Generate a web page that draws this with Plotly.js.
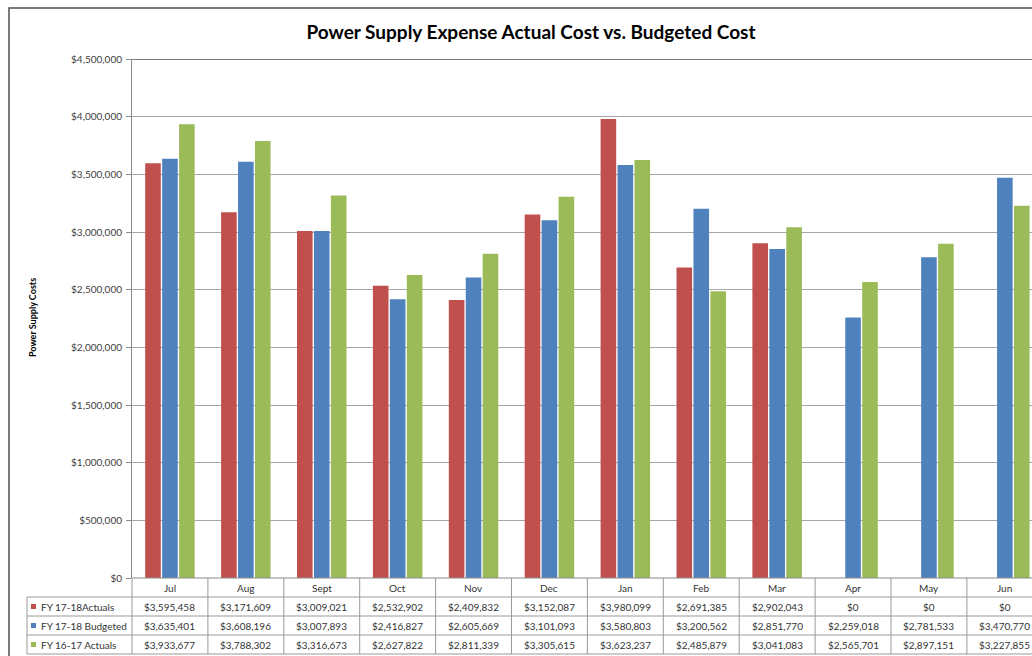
<!DOCTYPE html>
<html>
<head>
<meta charset="utf-8">
<script src="https://cdn.plot.ly/plotly-3.0.1.min.js"></script>
<style>html,body{margin:0;padding:0;background:#fff;}#chart{width:1032px;height:656px;}</style>
</head>
<body>
<div id="chart"></div>
<script>
const months = ["Jul","Aug","Sept","Oct","Nov","Dec","Jan","Feb","Mar","Apr","May","Jun"];
const seriesNames = ["FY 17-18Actuals","FY 17-18 Budgeted","FY 16-17 Actuals"];
const actual1718 = [3595458,3171609,3009021,2532902,2409832,3152087,3980099,2691385,2902043,0,0,0];
const budget1718 = [3635401,3608196,3007893,2416827,2605669,3101093,3580803,3200562,2851770,2259018,2781533,3470770];
const actual1617 = [3933677,3788302,3316673,2627822,2811339,3305615,3623237,2485879,3041083,2565701,2897151,3227855];
const yTickVals = [0,500000,1000000,1500000,2000000,2500000,3000000,3500000,4000000,4500000];
const colors = ["#C0504D","#4F81BD","#9BBB59"];
const allSeries = [actual1718, budget1718, actual1617];

const W = 1032, H = 656, L = 132, R = 0, T = 59, B = 78;
const plotW = W - L - R, plotH = H - T - B;
const catW = 75.9;
const xMax = -0.5 + plotW / catW;
const py = p => (H - B - p) / plotH;   // pixel y -> paper y
const px = p => (p - L) / plotW;       // pixel x -> paper x
const fmt = v => "$" + v.toLocaleString("en-US");
const FONT = "Lato, 'Liberation Sans', sans-serif";

const traces = allSeries.map((vals, i) => ({
  type: "bar", x: months, y: vals, name: seriesNames[i],
  marker: {color: colors[i]}, hoverinfo: "skip"
}));

const shapes = [];
const annotations = [];
// outer frame
shapes.push({type:"rect", xref:"paper", yref:"paper", x0:px(9), x1:px(1040), y0:py(665), y1:py(8), line:{color:"#505050", width:1.5}, layer:"below"});
// top gridline darker
shapes.push({type:"line", xref:"paper", yref:"y", x0:0, x1:1, y0:4500000, y1:4500000, line:{color:"#555", width:1.5}});
// table horizontal lines
shapes.push({type:"line", xref:"paper", yref:"paper", x0:0, x1:px(1040), y0:py(578), y1:py(578), line:{color:"#8a8a8a", width:1}});
[597,616,635,654].forEach(y => shapes.push({type:"line", xref:"paper", yref:"paper", x0:px(27), x1:px(1040), y0:py(y), y1:py(y), line:{color:"#9a9a9a", width:1}}));
// table verticals
shapes.push({type:"line", xref:"paper", yref:"paper", x0:px(27), x1:px(27), y0:py(597), y1:py(654), line:{color:"#9a9a9a", width:1}});
shapes.push({type:"line", xref:"paper", yref:"paper", x0:0, x1:0, y0:py(578), y1:py(654), line:{color:"#9a9a9a", width:1}});
for (let i = 0; i < months.length; i++) {
  shapes.push({type:"line", xref:"x", yref:"paper", x0:i+0.5, x1:i+0.5, y0:py(578), y1:py(654), line:{color:"#9a9a9a", width:1}});
}
// category labels and values
months.forEach((m, i) => {
  annotations.push({xref:"x", yref:"paper", x:i, y:py(587.5), text:m, showarrow:false, font:{family:FONT, size:10, color:"#333"}, xanchor:"center", yanchor:"middle"});
  allSeries.forEach((vals, s) => {
    annotations.push({xref:"x", yref:"paper", x:i, y:py(606.5 + 19*s), text:fmt(vals[i]), showarrow:false, font:{family:FONT, size:10, color:"#333"}, xanchor:"center", yanchor:"middle"});
  });
});
// legend keys
seriesNames.forEach((n, s) => {
  const yc = 606.5 + 19*s;
  shapes.push({type:"rect", xref:"paper", yref:"paper", x0:px(31), x1:px(36), y0:py(yc+2.5), y1:py(yc-2.5), fillcolor:colors[s], line:{width:0}});
  annotations.push({xref:"paper", yref:"paper", x:px(39), y:py(yc), text:n, showarrow:false, font:{family:FONT, size:10, color:"#333"}, xanchor:"left", yanchor:"middle"});
});
// y axis title
annotations.push({xref:"paper", yref:"paper", x:px(32), y:py(318), text:"<b>Power Supply Costs</b>", textangle:-90, showarrow:false, font:{family:FONT, size:9, color:"#000"}, xanchor:"center", yanchor:"middle"});

const layout = {
  width: W, height: H,
  margin: {l:L, r:R, t:T, b:B, pad:0},
  paper_bgcolor:"#fff", plot_bgcolor:"#fff",
  title: {text:"<b>Power Supply Expense Actual Cost vs. Budgeted Cost</b>", x:531/W, xref:"container", xanchor:"center", y:1-32/H, yref:"container", yanchor:"middle", font:{family:FONT, size:19, color:"#000"}},
  barmode:"group", bargap:0.33, bargroupgap:0.08,
  showlegend:false,
  xaxis: {range:[-0.5, xMax], showticklabels:false, ticks:"", showgrid:false, zeroline:false, showline:false, fixedrange:true},
  yaxis: {range:[0,4500000], tickvals:yTickVals, ticktext:yTickVals.map(fmt), tickfont:{family:FONT, size:10, color:"#404040"},
          showgrid:true, gridcolor:"#a6a6a6", gridwidth:1, zeroline:false, showline:true, linecolor:"#8a8a8a", linewidth:1,
          ticks:"outside", ticklen:5, tickcolor:"#8a8a8a", ticklabelstandoff:2},
  shapes: shapes, annotations: annotations
};
Plotly.newPlot("chart", traces, layout, {displayModeBar:false, staticPlot:true});
</script>
</body>
</html>
